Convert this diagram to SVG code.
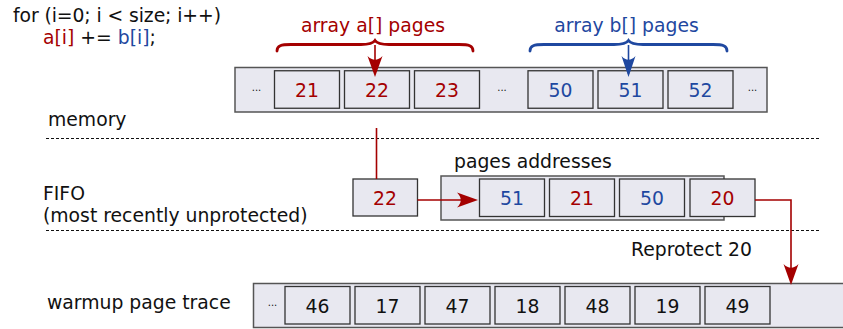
<svg xmlns="http://www.w3.org/2000/svg" width="843" height="329" viewBox="0 0 843 329">
<style>
text{font-family:"DejaVu Sans",sans-serif;font-size:18.8px;fill:#111}
.num{text-anchor:middle}
.red{fill:#a40000}
.blue{fill:#1f48a0}
.dots{font-size:10px;text-anchor:middle}
.strip{fill:#e8e8f0;stroke:#555;stroke-width:1.5}
.box{fill:#e8e8f0;stroke:#333;stroke-width:1.3}
.dash{stroke:#111;stroke-width:1;stroke-dasharray:3,2;fill:none}
.rl{stroke:#a40000;stroke-width:1.6;fill:none}
.brace{stroke-width:2.8;fill:none;stroke-linecap:round}
</style>
<defs>
<marker id="ahr" viewBox="-22 -8 24 16" refX="-3" refY="0" markerWidth="24" markerHeight="16" markerUnits="userSpaceOnUse" orient="auto">
<path d="M0,0 L-21,-7.5 C-16,-2.5 -16,2.5 -21,7.5 Z" fill="#a40000"/>
</marker>
<marker id="ahb" viewBox="-22 -8 24 16" refX="-3" refY="0" markerWidth="24" markerHeight="16" markerUnits="userSpaceOnUse" orient="auto">
<path d="M0,0 L-21,-7 C-16,-2.5 -16,2.5 -21,7 Z" fill="#1f48a0"/>
</marker>
</defs>

<g id="code">
<text x="13" y="22" textLength="208" lengthAdjust="spacing">for (i=0; i &lt; size; i++)</text>
<text x="43" y="44"><tspan class="red">a[i]</tspan> += <tspan class="blue">b[i]</tspan>;</text>
</g>

<g id="labels">
<text x="48" y="126">memory</text>
<text x="43" y="200">FIFO</text>
<text x="43" y="222">(most recently unprotected)</text>
<text x="47" y="309">warmup page trace</text>
<text x="454" y="168">pages addresses</text>
<text x="631" y="256">Reprotect 20</text>
</g>

<g id="separators">
<line class="dash" x1="46" y1="138.5" x2="820" y2="138.5"/>
<line class="dash" x1="46" y1="230.5" x2="820" y2="230.5"/>
</g>

<g id="brace-a">
<path class="brace" stroke="#a40000" d="M277,51 C277,45.5 281,44.5 291,44.5 L361,44.5 C369,44.5 373,43.5 375,40.5 C377,43.5 381,44.5 389,44.5 L459,44.5 C469,44.5 473,45.5 473,51"/>
<text class="red" x="373" y="32" text-anchor="middle">array a[] pages</text>
</g>

<g id="brace-b">
<path class="brace" stroke="#1f48a0" d="M530,51 C530,45.5 534,44.5 544,44.5 L614,44.5 C622,44.5 626.5,43.5 628.5,40.5 C630.5,43.5 635,44.5 643,44.5 L713,44.5 C723,44.5 727,45.5 727,51"/>
<text class="blue" x="626.5" y="32" text-anchor="middle">array b[] pages</text>
</g>

<g id="memory">
<rect class="strip" x="235" y="67.5" width="532" height="44.5"/>
<text class="dots" x="256.5" y="91">...</text>
<rect class="box" x="274.5" y="70.75" width="65" height="37.5"/>
<text class="num red" x="307" y="97">21</text>
<rect class="box" x="344.5" y="70.75" width="65" height="37.5"/>
<text class="num red" x="377" y="97">22</text>
<rect class="box" x="414.5" y="70.75" width="65" height="37.5"/>
<text class="num red" x="447" y="97">23</text>
<text class="dots" x="502" y="91">...</text>
<rect class="box" x="528" y="70.75" width="65" height="37.5"/>
<text class="num blue" x="560.5" y="97">50</text>
<rect class="box" x="598" y="70.75" width="65" height="37.5"/>
<text class="num blue" x="630.5" y="97">51</text>
<rect class="box" x="668" y="70.75" width="65" height="37.5"/>
<text class="num blue" x="700.5" y="97">52</text>
<text class="dots" x="752.5" y="91">...</text>
</g>

<g id="fifo-new">
<rect class="box" x="353" y="179" width="64.5" height="37"/>
<text class="num red" x="385" y="205">22</text>
</g>

<g id="fifo">
<rect class="strip" x="441" y="176" width="283" height="44"/>
<rect class="box" x="479.5" y="179" width="65" height="37.5"/>
<text class="num blue" x="512" y="205">51</text>
<rect class="box" x="549.5" y="179" width="65" height="37.5"/>
<text class="num red" x="582" y="205">21</text>
<rect class="box" x="619.5" y="179" width="65" height="37.5"/>
<text class="num blue" x="652" y="205">50</text>
<rect class="box" x="690" y="179" width="65" height="37.5"/>
<text class="num red" x="722.5" y="205">20</text>
</g>

<g id="trace">
<rect class="strip" x="253.5" y="283.5" width="600" height="44"/>
<text class="dots" x="272.5" y="306">...</text>
<rect class="box" x="285" y="286.5" width="65" height="37.5"/>
<text class="num" x="317.5" y="313">46</text>
<rect class="box" x="355" y="286.5" width="65" height="37.5"/>
<text class="num" x="387.5" y="313">17</text>
<rect class="box" x="425" y="286.5" width="65" height="37.5"/>
<text class="num" x="457.5" y="313">47</text>
<rect class="box" x="495" y="286.5" width="65" height="37.5"/>
<text class="num" x="527.5" y="313">18</text>
<rect class="box" x="565" y="286.5" width="65" height="37.5"/>
<text class="num" x="597.5" y="313">48</text>
<rect class="box" x="635" y="286.5" width="65" height="37.5"/>
<text class="num" x="667.5" y="313">19</text>
<rect class="box" x="705" y="286.5" width="65" height="37.5"/>
<text class="num" x="737.5" y="313">49</text>
</g>

<g id="connectors">
<line x1="375" y1="45" x2="375" y2="74" stroke="#a40000" stroke-width="1.6" marker-end="url(#ahr)"/>
<line x1="628.5" y1="45" x2="628.5" y2="74" stroke="#1f48a0" stroke-width="1.6" marker-end="url(#ahb)"/>
<line class="rl" x1="376.5" y1="128" x2="376.5" y2="179"/>
<line class="rl" x1="417.5" y1="200" x2="475" y2="200" marker-end="url(#ahr)"/>
<path class="rl" d="M755,200 H791 V282" marker-end="url(#ahr)"/>
</g>
</svg>
